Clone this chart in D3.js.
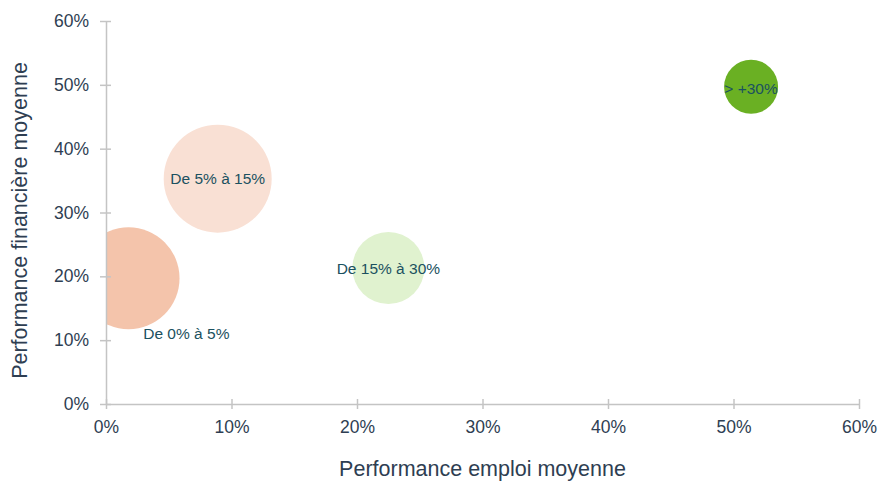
<!DOCTYPE html>
<html>
<head>
<meta charset="utf-8">
<script src="https://cdn.jsdelivr.net/npm/d3@7"></script>
<style>
  html, body { margin: 0; padding: 0; background: #ffffff; }
  svg { display: block; font-family: "Liberation Sans", Arial, sans-serif; }
</style>
</head>
<body>
<svg id="chart" width="879" height="482"></svg>
<script>
// ---- data ----
const categories = ["De 0% à 5%", "De 5% à 15%", "De 15% à 30%", "> +30%"];
const emploi = [0.018, 0.089, 0.225, 0.514];      // x: performance emploi moyenne
const financiere = [0.197, 0.353, 0.213, 0.497];  // y: performance financière moyenne
const taille = [26.0, 29.2, 13.0, 7.3];           // bubble size (area)
const colors = ["#f4c4ab", "#f9e0d4", "#e0f2cf", "#6ab023"];
const xTicks = [0, 0.1, 0.2, 0.3, 0.4, 0.5, 0.6];
const yTicks = [0, 0.1, 0.2, 0.3, 0.4, 0.5, 0.6];
const xTitle = "Performance emploi moyenne";
const yTitle = "Performance financière moyenne";

// ---- layout ----
const svg = d3.select("#chart");
const margin = { left: 106, right: 20, top: 21, bottom: 78 };
const W = 879, H = 482;
const x = d3.scaleLinear().domain([0, 0.6]).range([margin.left, W - margin.right]);
const y = d3.scaleLinear().domain([0, 0.6]).range([H - margin.bottom, margin.top]);
const r = d3.scaleSqrt().domain([0, d3.max(taille)]).range([0, 54]);

const data = categories.map((c, i) => ({ c, x: emploi[i], y: financiere[i], s: taille[i], col: colors[i], i }));

svg.append("defs").append("clipPath").attr("id", "plotclip")
  .append("rect")
  .attr("x", margin.left).attr("y", 0)
  .attr("width", W - margin.right - margin.left + 20)
  .attr("height", H - margin.bottom);

// bubbles
svg.append("g").attr("clip-path", "url(#plotclip)")
  .selectAll("circle").data(data).join("circle")
  .attr("cx", d => x(d.x)).attr("cy", d => y(d.y))
  .attr("r", d => r(d.s))
  .attr("fill", d => d.col);

// axes
const axisColor = "#c4c4c4";
const textColor = "#2e3e52";
const fmt = d3.format(".0%");

const xAxis = svg.append("g").attr("transform", `translate(0,${y(0)})`)
  .call(d3.axisBottom(x).tickValues(xTicks).tickFormat(fmt).tickSizeInner(5).tickSizeOuter(0).tickPadding(12));
xAxis.selectAll(".tick line").attr("y1", -5);
const yAxis = svg.append("g").attr("transform", `translate(${x(0)},0)`)
  .call(d3.axisLeft(y).tickValues(yTicks).tickFormat(fmt).tickSizeInner(6).tickSizeOuter(0).tickPadding(11));
yAxis.selectAll(".tick line").attr("x1", 5);

[xAxis, yAxis].forEach(a => {
  a.select(".domain").attr("stroke", axisColor).attr("stroke-width", 1.5);
  a.selectAll(".tick line").attr("stroke", axisColor).attr("stroke-width", 1.5);
  a.selectAll(".tick text").attr("fill", textColor).attr("font-size", 17.5)
    .attr("font-family", "'Liberation Sans', Arial, sans-serif");
});

// labels
const labelColor = "#1b5160";
svg.append("g").selectAll("text").data(data).join("text")
  .attr("x", d => d.i === 0 ? x(d.x) + r(d.s) * 0.27 + 44 : x(d.x))
  .attr("y", d => d.i === 0 ? y(d.y) + r(d.s) + 4 : y(d.y) + (d.i === 3 ? 2 : 0))
  .attr("text-anchor", "middle")
  .attr("dominant-baseline", "central")
  .attr("font-size", 15.5)
  .attr("fill", labelColor)
  .text(d => d.c);

// axis titles
svg.append("text")
  .attr("x", (x(0) + x(0.6)) / 2).attr("y", 469)
  .attr("text-anchor", "middle").attr("dominant-baseline", "central")
  .attr("font-size", 21.5).attr("fill", textColor)
  .text(xTitle);
svg.append("text")
  .attr("transform", `translate(20,${(y(0) + y(0.6)) / 2 + 8}) rotate(-90)`)
  .attr("text-anchor", "middle").attr("dominant-baseline", "central")
  .attr("font-size", 21.5).attr("fill", textColor)
  .text(yTitle);
</script>
</body>
</html>
